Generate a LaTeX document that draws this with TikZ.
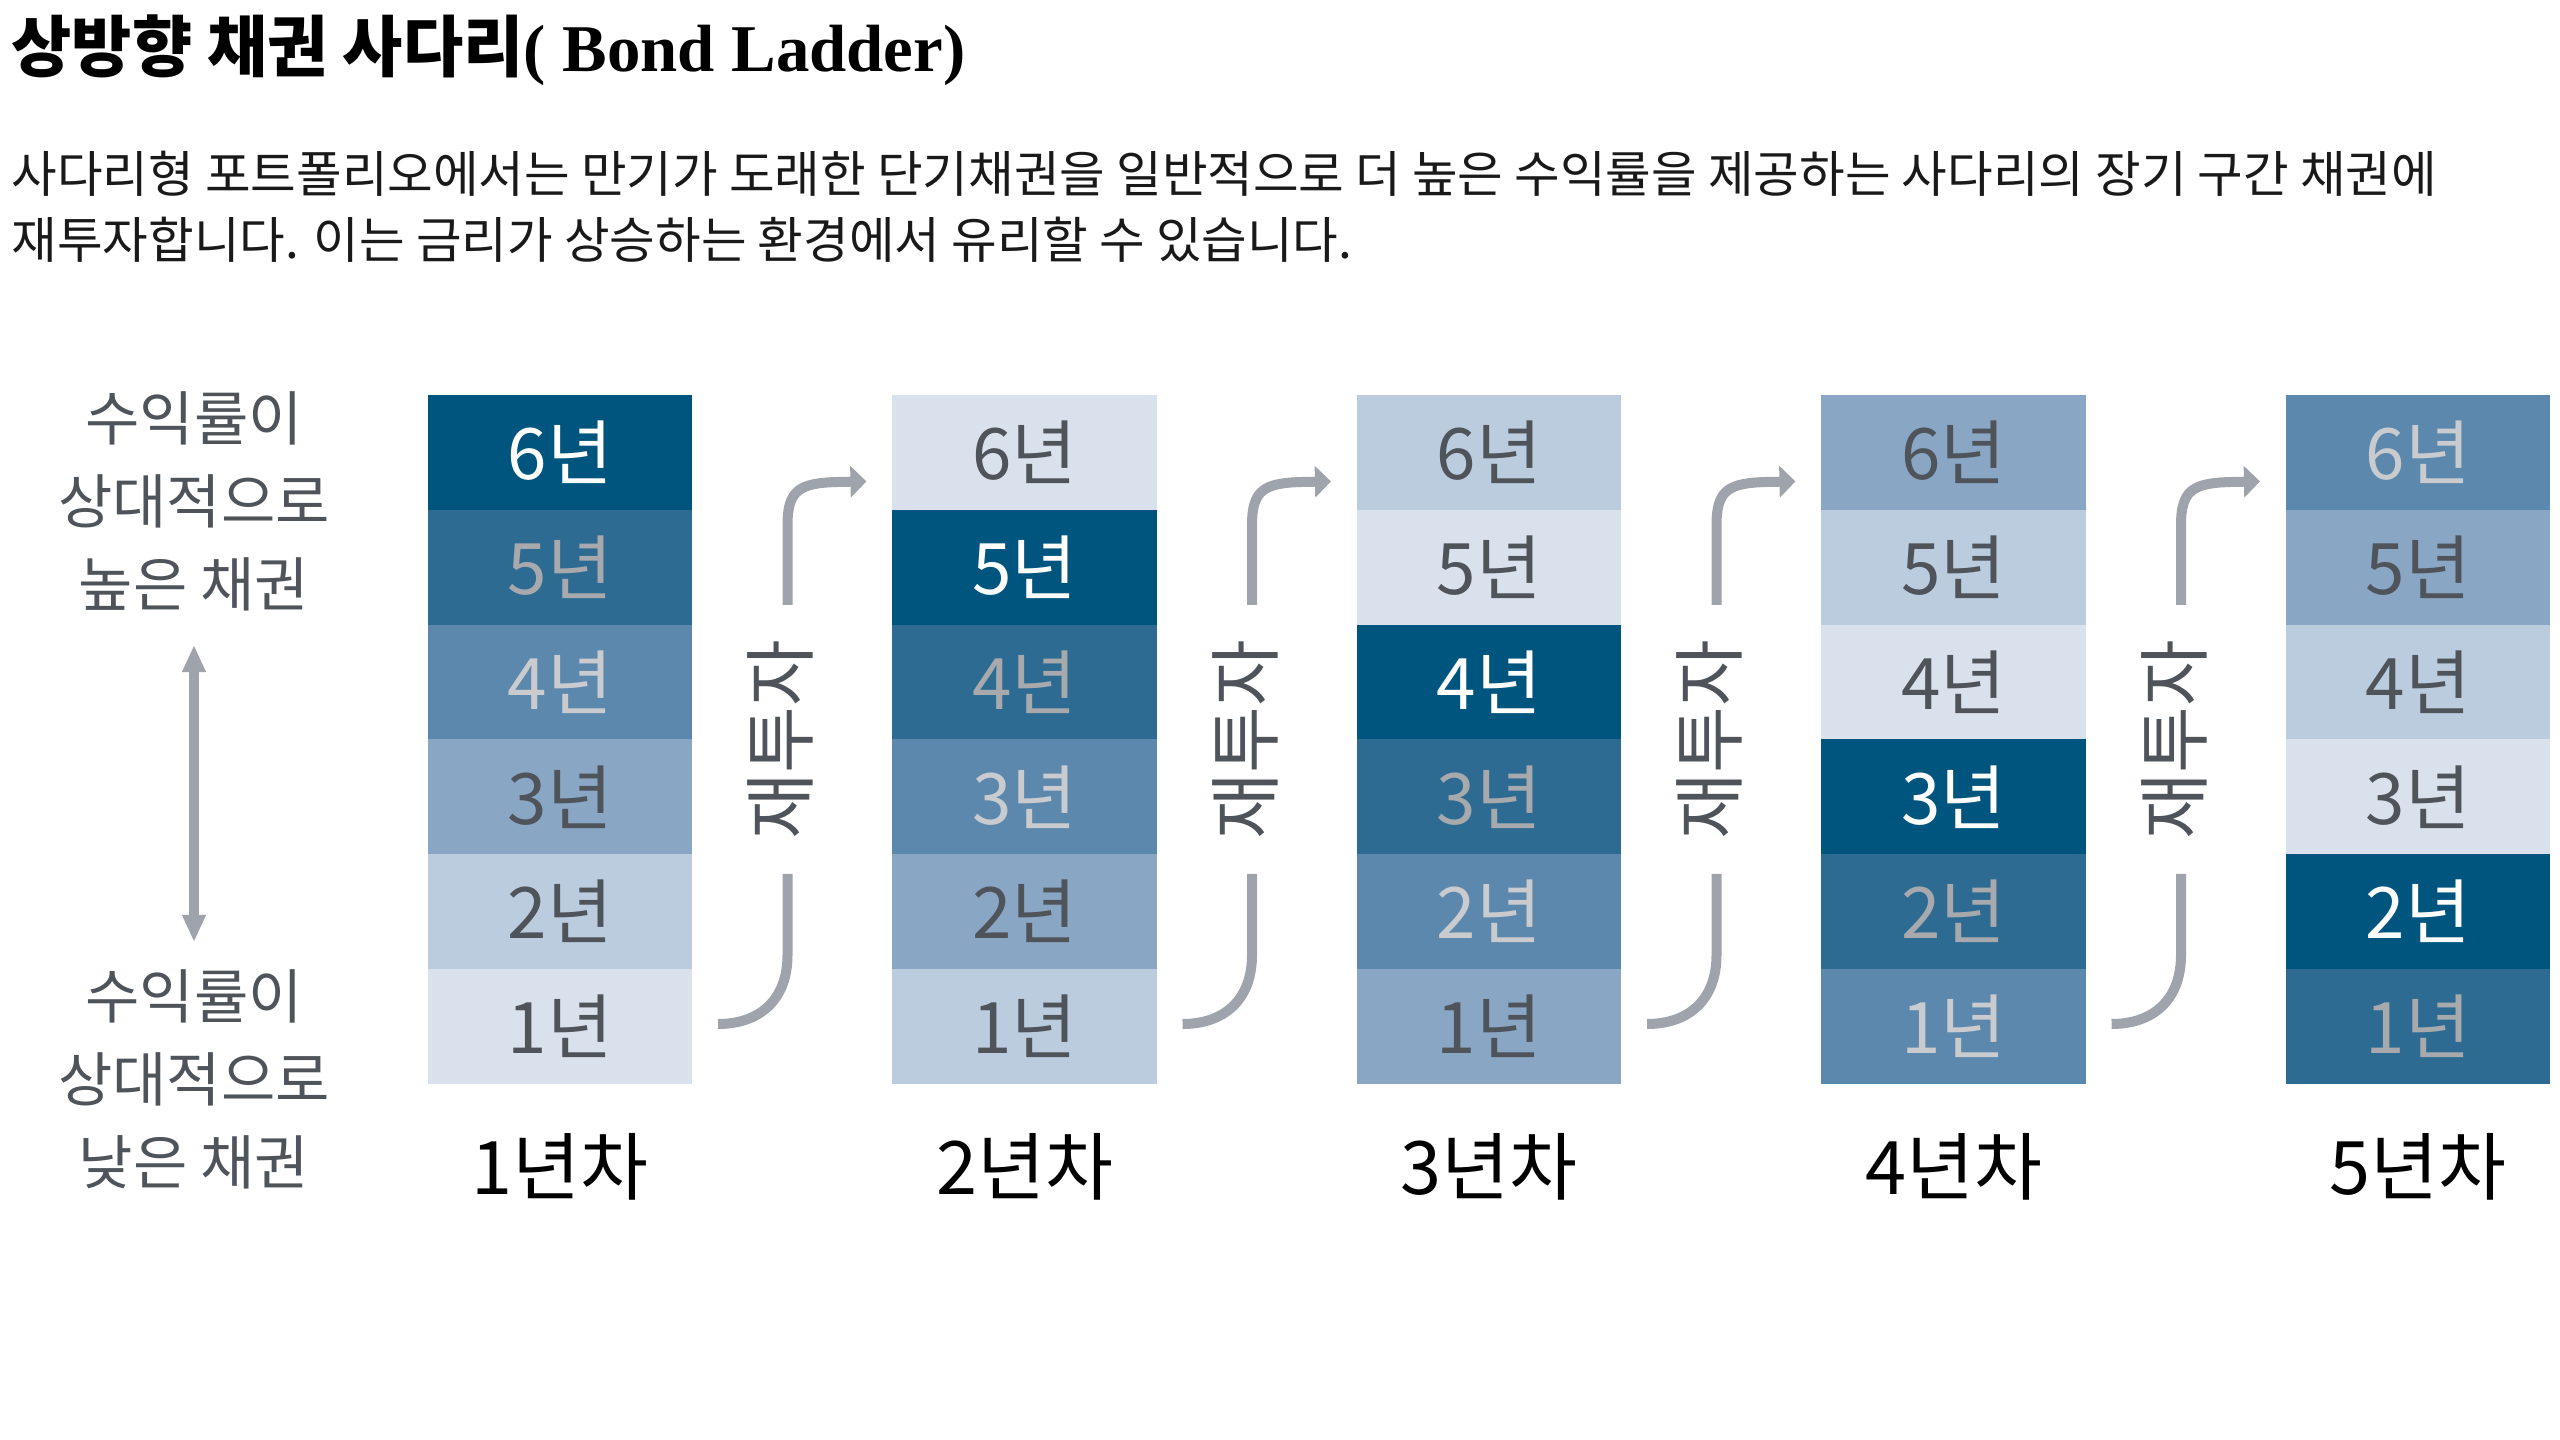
\documentclass[tikz,border=0pt]{standalone}
\usepackage{fontspec}
\setmainfont{Noto Sans CJK KR}
\newfontfamily\serifpart{Liberation Serif}
\usetikzlibrary{arrows.meta,positioning}
\definecolor{band0}{HTML}{00557F}
\definecolor{band1}{HTML}{2E6B92}
\definecolor{band2}{HTML}{5B88AC}
\definecolor{band3}{HTML}{89A6C4}
\definecolor{band4}{HTML}{BCCCDF}
\definecolor{band5}{HTML}{D9E1EC}
\definecolor{ink0}{HTML}{FFFFFF}
\definecolor{ink1}{HTML}{A7A9AC}
\definecolor{ink2}{HTML}{C9CBCE}
\definecolor{ink3}{HTML}{4F535A}
\definecolor{ink4}{HTML}{4F535A}
\definecolor{ink5}{HTML}{4F535A}
\definecolor{guide}{HTML}{9FA3AB}
\tikzstyle{bond} = [minimum width=2.645cm,minimum height=1.148cm,inner sep=0pt,font=\fontsize{20.2}{21}\selectfont]
\tikzstyle{yearlabel} = [font=\fontsize{21}{24}\selectfont]
\tikzstyle{sidelabel} = [align=center,text=ink3,font=\fontsize{16.8}{23.6}\selectfont]

\begin{document}
\begin{tikzpicture}[x=0.01cm,y=-0.01cm]
\tikzstyle{reinvest} = [rotate=90,text=ink3,font=\fontsize{20.6}{22}\selectfont]
\tikzstyle{flow} = [draw=guide,line width=0.1cm]
\useasboundingbox (0,0) rectangle (2560,1440);
\node[anchor=base west,inner sep=0pt,font=\fontsize{19}{22}\selectfont] (title) at (11,72) {\bfseries\scalebox{0.98}[1]{상방향 채권 사다리}{\serifpart( Bond Ladder)}};
\node[anchor=base west,inner sep=0pt,text=black!90,font=\fontsize{14.1}{16}\selectfont] (desc 1) at (11,193) {사다리형 포트폴리오에서는 만기가 도래한 단기채권을 일반적으로 더 높은 수익률을 제공하는 사다리의 장기 구간 채권에};
\node[anchor=base west,inner sep=0pt,text=black!90,font=\fontsize{14.1}{16}\selectfont] (desc 2) at (11,259) {재투자합니다. 이는 금리가 상승하는 환경에서 유리할 수 있습니다.};
\node[sidelabel] (high) at (194,501) {수익률이\\상대적으로\\높은 채권};
\node[sidelabel] (low) at (194,1079) {수익률이\\상대적으로\\낮은 채권};
\coordinate (scale top) at (194,645);
\coordinate (scale bottom) at (194,942);
\draw[draw=guide,line width=0.09cm,{Triangle[length=0.27cm,width=0.22cm]}-{Triangle[length=0.27cm,width=0.22cm]}] (scale top) -- (scale bottom);
\foreach \k in {1,...,5}{
    \foreach \r in {1,...,6}{
        \pgfmathtruncatemacro\shade{mod(13-\r-\k,6)}
        \node[bond,fill=band\shade,text=ink\shade] (box \k-\r) at ({560+(\k-1)*464.5},{395+(6.5-\r)*114.8}) {\r{}년};
    }
    \node[yearlabel] (year \k) at ({560+(\k-1)*464.5},1167) {\k{}년차};
}
\foreach \k in {1,...,4}{
    \pgfmathtruncatemacro\nxt{\k+1}
    \pgfmathsetmacro\ax{787.5+(\k-1)*464.5}
    \node[reinvest] (reinvest \k) at (\ax-7,740) {재투자};
    \coordinate (gap top \k) at (\ax,605);
    \coordinate (gap foot \k) at (\ax,874);
    \draw[flow] (gap foot \k) -- (\ax,955) .. controls (\ax,1000) and (\ax-28,1024) .. ([xshift=0.25cm,yshift=0.024cm]box \k-1.east);
    \draw[flow,-{Triangle[length=0.16cm,width=0.31cm]}] (gap top \k) -- (\ax,525) .. controls (\ax,490) and (\ax+12,483) .. (\ax+50,482) -- ([xshift=-0.25cm,yshift=-0.29cm]box \nxt-6.west);
}
\end{tikzpicture}
\end{document}
